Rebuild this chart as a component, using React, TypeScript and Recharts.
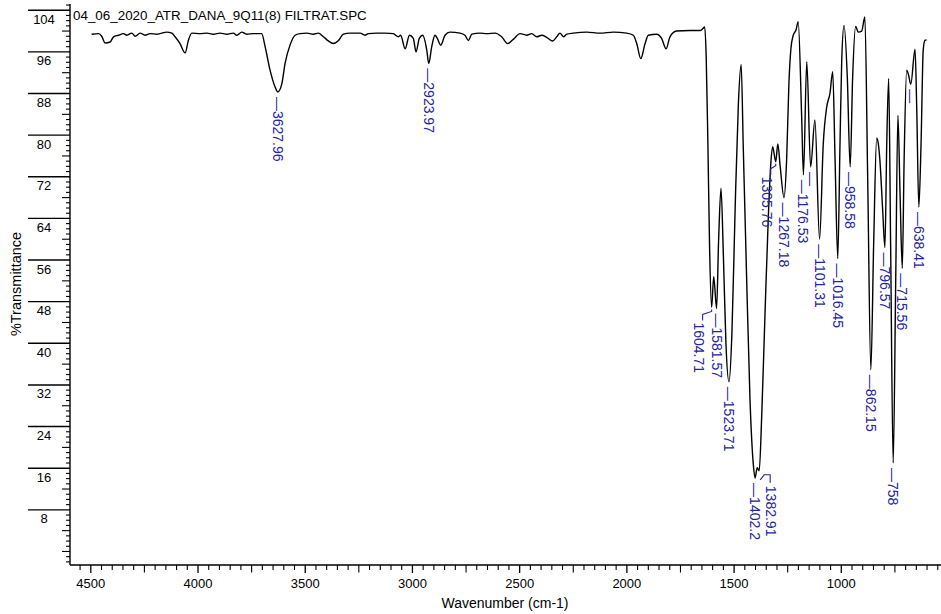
import React from 'react';
import { ComposedChart, Line, XAxis, YAxis, ReferenceDot } from 'recharts';

// ATR spectrum: wavenumber (cm-1) and %T, paired by index
const WAVENUMBERS = [
  4496, 4464, 4449, 4433, 4410, 4394, 4371, 4348, 4332, 4309, 4293, 4270, 4247, 4223, 4192, 4177,
  4146, 4122, 4107, 4084, 4060, 4045, 4029, 3990, 3959, 3928, 3897, 3866, 3835, 3819, 3796, 3773,
  3742, 3703, 3687, 3664, 3641, 3627.96, 3609, 3594, 3571, 3547, 3524, 3493, 3462, 3439, 3415, 3392,
  3369, 3345, 3322, 3291, 3244, 3221, 3206, 3167, 3128, 3089, 3066, 3055, 3034, 3014, 2996, 2983,
  2968, 2952, 2933, 2923.97, 2910, 2895, 2884, 2868, 2848, 2825, 2778, 2755, 2739, 2723, 2685, 2653,
  2615, 2584, 2556, 2530, 2498, 2467, 2444, 2420, 2397, 2374, 2346, 2327, 2312, 2296, 2280, 2250,
  2187, 2125, 2063, 2001, 1970, 1954, 1935, 1915, 1900, 1861, 1838, 1817, 1799, 1768, 1706, 1659,
  1645, 1637, 1630, 1622, 1614, 1604.71, 1595, 1581.57, 1572, 1561, 1550, 1538, 1523.71, 1510, 1495, 1480,
  1467, 1457, 1441, 1426, 1410, 1402.2, 1392, 1382.91, 1371, 1356, 1340, 1328, 1320, 1305.76, 1296, 1285,
  1267.18, 1255, 1244, 1235, 1224, 1211, 1201, 1185, 1176.53, 1161, 1143, 1123, 1101.31, 1084, 1068, 1053,
  1040, 1029, 1016.45, 1006, 998, 987, 972, 958.58, 947, 933, 921, 905, 890, 877, 862.15, 849,
  835, 828, 820, 807, 796.57, 788, 779, 770, 758, 746, 736, 726, 715.56, 707, 695, 686,
  676, 656, 648, 638.41, 628, 618, 610, 602,
];

const TRANSMITTANCE = [
  99.4, 99.5, 99.0, 97.7, 97.9, 98.9, 99.2, 99.5, 99.2, 99.6, 99.0, 99.6, 99.2, 99.5, 99.4, 99.5,
  99.8, 99.6, 98.9, 97.6, 95.8, 98.2, 99.6, 99.5, 99.6, 99.4, 99.6, 99.4, 99.6, 99.2, 99.8, 99.4,
  99.5, 99.5, 97.0, 92.5, 89.3, 88.3, 89.9, 93.8, 97.3, 99.2, 99.5, 99.6, 99.4, 99.6, 98.9, 98.1,
  97.6, 98.2, 99.4, 99.6, 99.6, 99.2, 99.5, 99.6, 99.6, 99.5, 98.9, 99.2, 96.6, 99.2, 98.6, 96.0,
  98.6, 99.2, 96.3, 93.8, 97.0, 99.2, 98.6, 97.3, 99.2, 99.8, 99.6, 99.2, 98.2, 99.4, 99.6, 99.5,
  99.6, 98.9, 97.6, 98.4, 99.5, 99.2, 99.5, 98.9, 99.2, 98.8, 98.1, 98.9, 99.6, 98.9, 99.4, 99.6,
  99.8, 99.6, 99.8, 99.6, 99.2, 97.6, 94.7, 97.6, 99.2, 99.4, 98.6, 96.6, 98.9, 100.0, 100.1, 100.1,
  100.5, 100.8, 95.0, 78.0, 58.0, 46.9, 52.8, 46.7, 60.0, 69.8, 57.0, 40.0, 32.6, 42.0, 66.0, 86.0,
  93.6, 77.4, 51.8, 29.5, 16.6, 14.1, 16.1, 15.5, 26.2, 45.4, 64.6, 75.0, 77.8, 74.9, 78.3, 74.0,
  68.0, 75.2, 90.2, 96.6, 99.2, 100.2, 101.8, 83.8, 72.4, 94.1, 73.9, 82.9, 60.0, 78.4, 85.4, 88.0,
  92.2, 75.2, 56.3, 78.4, 94.4, 101.1, 91.2, 73.9, 91.2, 100.9, 99.8, 100.0, 102.7, 72.0, 34.9, 59.2,
  79.4, 78.5, 75.2, 65.6, 58.4, 78.4, 90.9, 59.2, 17.0, 52.8, 83.8, 68.8, 54.4, 75.2, 92.5, 91.5,
  89.8, 96.5, 84.8, 66.2, 78.4, 96.3, 98.2, 98.3,
];

// Picked peaks; an empty label draws only the marker dash
const PEAK_WAVENUMBERS = [
  3627.96, 2923.97, 1604.71, 1581.57, 1523.71, 1402.2, 1382.91, 1305.76, 1267.18, 1176.53,
  1143, 1101.31, 1016.45, 958.58, 862.15, 796.57, 758, 715.56, 676, 638.41,
];
const PEAK_LABELS = [
  '3627.96', '2923.97', '1604.71', '1581.57', '1523.71', '1402.2', '1382.91', '1305.76', '1267.18', '1176.53',
  '', '1101.31', '1016.45', '958.58', '862.15', '796.57', '758', '715.56', '', '638.41',
];

// Axis tick labels
const Y_TICK_LABELS = [8, 16, 24, 32, 40, 48, 56, 64, 72, 80, 88, 96, 104];
const X_TICK_LABELS = [4500, 4000, 3500, 3000, 2500, 2000, 1500, 1000];

const TITLE = '04_06_2020_ATR_DANA_9Q11(8) FILTRAT.SPC';
const X_TITLE = 'Wavenumber (cm-1)';
const Y_TITLE = '%Transmittance';

// ---- layout / styling ----
const W = 941;
const H = 614;
const FONT = "'Liberation Sans', Arial, sans-serif";
const PEAK_BLUE = '#24249e';
const PEAK_FONT = 14;
const Y_DOMAIN: [number, number] = [-2.6, 105.2];
const X_DOMAIN: [number, number] = [535, 4597];

// labels pushed sideways with a bent leader (pixel offset of the text column)
const LEADER_SHIFT: Record<string, number> = { '1604.71': -13, '1382.91': 12, '1305.76': -9 };

const spectrum = WAVENUMBERS.map((wn, i) => ({ wn, t: TRANSMITTANCE[i] }));

const peaks = PEAK_WAVENUMBERS.map((wn, i) => ({
  wn,
  t: TRANSMITTANCE[WAVENUMBERS.indexOf(wn)],
  label: PEAK_LABELS[i],
}));

// minor ticks every unit / every 50 cm-1
const yTicks: number[] = [];
for (let v = -2; v <= 105; v++) yTicks.push(v);
const xTicks: number[] = [];
for (let v = 550; v <= 4550; v += 50) xTicks.push(v);

const YTick = (props: any) => {
  const { x, y, payload } = props;
  const v = payload.value as number;
  if (Y_TICK_LABELS.includes(v)) {
    return (
      <g>
        <line x1={x - 42} x2={x} y1={y} y2={y} stroke="#000" strokeWidth={1.4} />
        <text x={x - 26} y={y + 9} textAnchor="middle" dominantBaseline="central" fontSize={13} fontFamily={FONT} fill="#000">
          {v}
        </text>
      </g>
    );
  }
  const len = v % 4 === 0 ? 8 : 4;
  return <line x1={x - len} x2={x} y1={y} y2={y} stroke="#000" strokeWidth={1.1} />;
};

const XTick = (props: any) => {
  const { x, y, payload } = props;
  const v = payload.value as number;
  if (X_TICK_LABELS.includes(v)) {
    return (
      <g>
        <line x1={x} x2={x} y1={y} y2={y + 8} stroke="#000" strokeWidth={1.3} />
        <text x={x} y={y + 18} textAnchor="middle" dominantBaseline="central" fontSize={13} fontFamily={FONT} fill="#000">
          {v}
        </text>
      </g>
    );
  }
  const len = v % 250 === 0 ? 7.5 : 5;
  return <line x1={x} x2={x} y1={y} y2={y + len} stroke="#000" strokeWidth={1.1} />;
};

const PeakMark = ({ cx, cy, label }: { cx: number; cy: number; label: string }) => {
  const shift = LEADER_SHIFT[label];
  if (!shift) {
    return (
      <text
        transform={`translate(${cx},${cy + 5}) rotate(90)`}
        dominantBaseline="central"
        fontSize={PEAK_FONT}
        fontFamily={FONT}
        fill={PEAK_BLUE}
      >
        {'\u2014' + label}
      </text>
    );
  }
  const lx = cx + shift;
  const vx = shift < 0 ? lx + 4 : lx - 1;
  const path =
    shift < 0
      ? `M${cx},${cy + 2} L${cx},${cy + 4} L${vx},${cy + 7} L${vx},${cy + 13}`
      : `M${cx + 1},${cy + 9} L${cx + 5},${cy + 4} L${vx},${cy + 4} L${vx},${cy + 12}`;
  return (
    <g>
      <path d={path} fill="none" stroke={PEAK_BLUE} strokeWidth={1.1} />
      <text
        transform={`translate(${lx},${cy + 15}) rotate(90)`}
        dominantBaseline="central"
        fontSize={PEAK_FONT}
        fontFamily={FONT}
        fill={PEAK_BLUE}
      >
        {label}
      </text>
    </g>
  );
};

export default function App() {
  return (
    <div style={{ position: 'absolute', left: 0, top: 0, width: W, height: H, background: '#fff' }}>
      <ComposedChart
        width={W}
        height={H}
        data={spectrum}
        margin={{ top: 4, right: 0, bottom: 0, left: 0 }}
      >
        <XAxis
          dataKey="wn"
          type="number"
          domain={X_DOMAIN}
          reversed
          allowDataOverflow
          ticks={xTicks}
          interval={0}
          tickSize={0}
          tickMargin={0}
          tickLine={false}
          tick={<XTick />}
          height={49}
          axisLine={{ stroke: '#000', strokeWidth: 1.4 }}
        />
        <YAxis
          type="number"
          domain={Y_DOMAIN}
          allowDataOverflow
          ticks={yTicks}
          interval={0}
          tickSize={0}
          tickMargin={0}
          tickLine={false}
          tick={<YTick />}
          width={70}
          axisLine={{ stroke: '#000', strokeWidth: 1.4 }}
        />
        <Line
          dataKey="t"
          type="monotone"
          stroke="#000"
          strokeWidth={1.4}
          dot={false}
          activeDot={false}
          isAnimationActive={false}
        />
        {peaks.map((p) => (
          <ReferenceDot
            key={p.wn}
            x={p.wn}
            y={p.t}
            r={0}
            ifOverflow="visible"
            shape={(s: any) => <PeakMark cx={s.cx} cy={s.cy} label={p.label} />}
          />
        ))}
      </ComposedChart>
      <svg
        width={W}
        height={H}
        style={{ position: 'absolute', left: 0, top: 0, pointerEvents: 'none' }}
      >
        <text x={73} y={19.5} fontSize={13.4} fontFamily={FONT} fill="#000">
          {TITLE}
        </text>
        <text x={505} y={603} textAnchor="middle" dominantBaseline="central" fontSize={14} fontFamily={FONT} fill="#000">
          {X_TITLE}
        </text>
        <text
          transform="translate(16,284) rotate(-90)"
          textAnchor="middle"
          dominantBaseline="central"
          fontSize={14.5}
          fontFamily={FONT}
          fill="#000"
        >
          {Y_TITLE}
        </text>
      </svg>
    </div>
  );
}
